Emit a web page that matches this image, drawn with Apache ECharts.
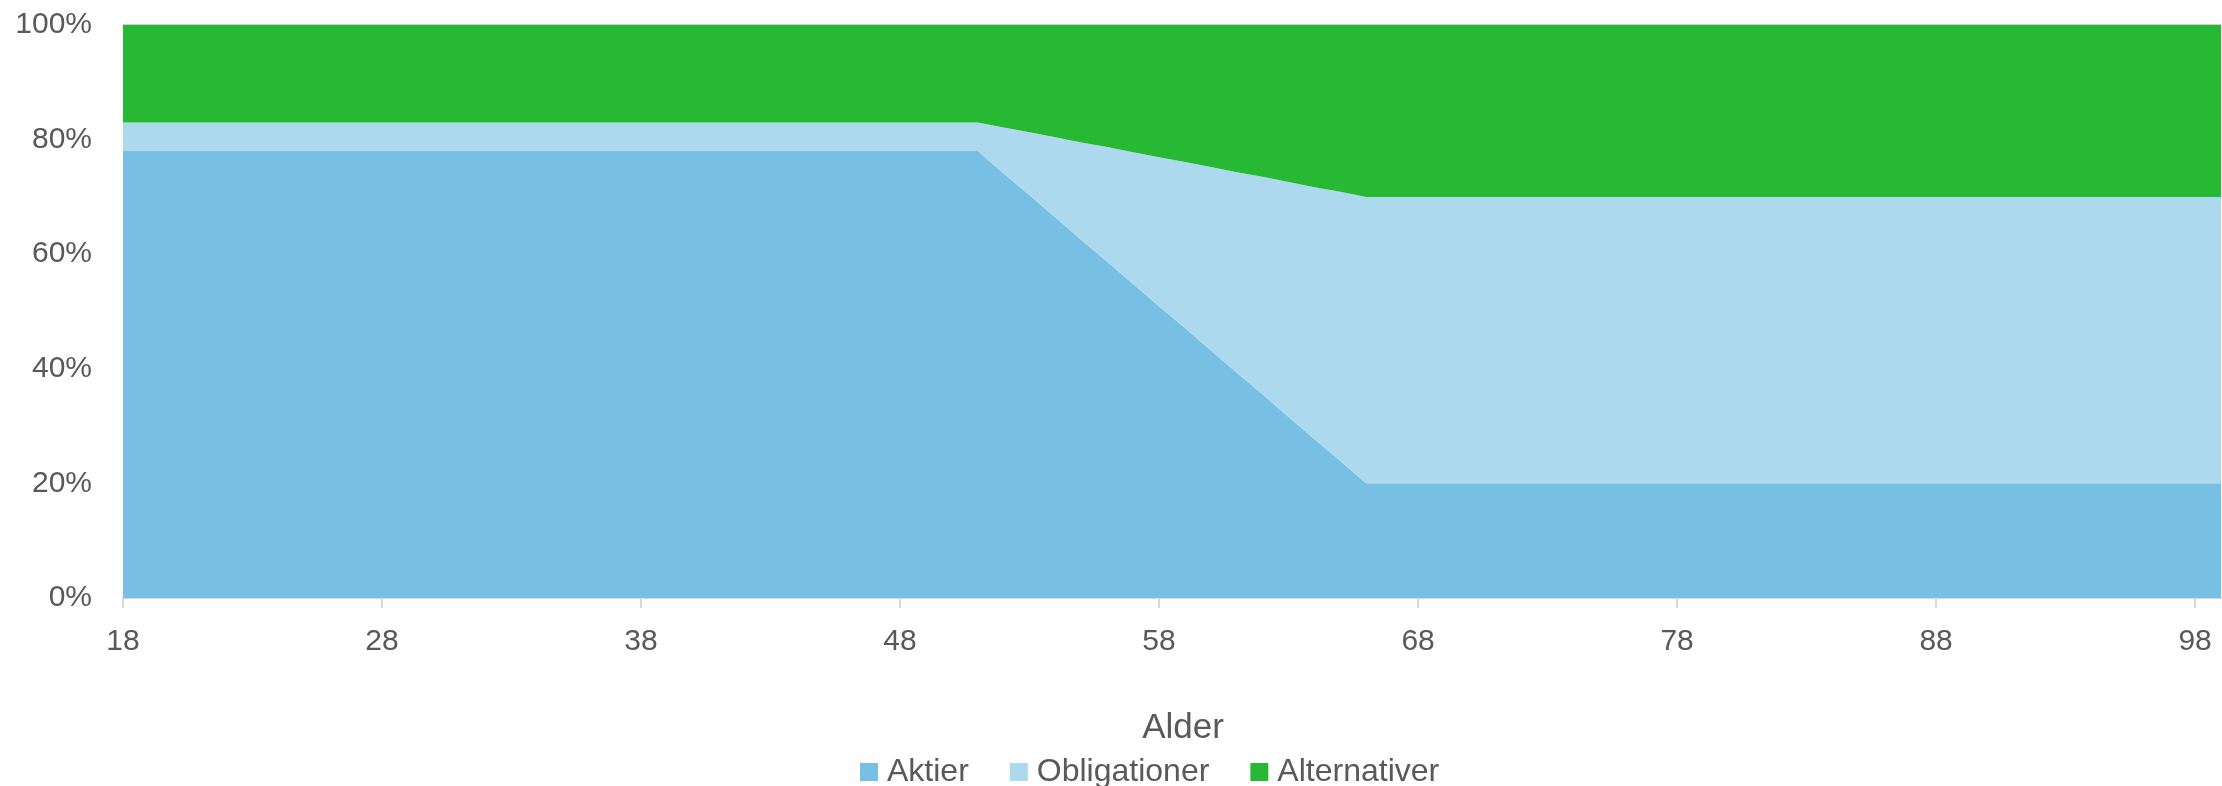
<!DOCTYPE html>
<html>
<head>
<meta charset="utf-8">
<script src="https://cdn.jsdelivr.net/npm/echarts@6/dist/echarts.min.js"></script>
<style>
html,body{margin:0;padding:0;background:#fff;}
#chart{width:2222px;height:786px;}
</style>
</head>
<body>
<div id="chart"></div>
<script>
const ages = [
  18,19,20,21,22,23,24,25,26,27,28,29,30,31,32,33,34,35,36,37,38,39,40,41,42,43,44,45,46,47,48,49,50,51,
  52,53,54,55,56,57,58,59,60,61,62,63,64,65,
  66,67,68,69,70,71,72,73,74,75,76,77,78,79,80,81,82,83,84,85,86,87,88,89,90,91,92,93,94,95,96,97,98,99
];
const aktier = [
  78,78,78,78,78,78,78,78,78,78,78,78,78,78,78,78,78,78,78,78,78,78,78,78,78,78,78,78,78,78,78,78,78,78,
  74.1,70.3,66.4,62.5,58.7,54.8,50.9,47.1,43.2,39.3,35.5,31.6,27.7,23.9,
  20,20,20,20,20,20,20,20,20,20,20,20,20,20,20,20,20,20,20,20,20,20,20,20,20,20,20,20,20,20,20,20,20,20
];
const obligationer = [
  5,5,5,5,5,5,5,5,5,5,5,5,5,5,5,5,5,5,5,5,5,5,5,5,5,5,5,5,5,5,5,5,5,5,
  8,11,14,17,20,23,26,29,32,35,38,41,44,47,
  50,50,50,50,50,50,50,50,50,50,50,50,50,50,50,50,50,50,50,50,50,50,50,50,50,50,50,50,50,50,50,50,50,50
];
const alternativer = [
  17,17,17,17,17,17,17,17,17,17,17,17,17,17,17,17,17,17,17,17,17,17,17,17,17,17,17,17,17,17,17,17,17,17,
  17.9,18.7,19.6,20.5,21.3,22.2,23.1,23.9,24.8,25.7,26.5,27.4,28.3,29.1,
  30,30,30,30,30,30,30,30,30,30,30,30,30,30,30,30,30,30,30,30,30,30,30,30,30,30,30,30,30,30,30,30,30,30
];
const seriesNames = ['Aktier', 'Obligationer', 'Alternativer'];
const colors = ['#77bfe3', '#acd9ee', '#28b934'];
const yTicks = [0, 20, 40, 60, 80, 100];

const FONT = '"Liberation Sans", Arial, sans-serif';
const TXT = '#595959';
const chart = echarts.init(document.getElementById('chart'), null, {renderer: 'canvas'});
const mk = (name, data, i) => ({
  name: name,
  type: 'line',
  stack: 'total',
  data: data,
  symbol: 'none',
  showSymbol: false,
  lineStyle: {width: 0},
  itemStyle: {color: colors[i]},
  areaStyle: {color: colors[i], opacity: 1},
  emphasis: {disabled: true},
  animation: false
});
chart.setOption({
  animation: false,
  textStyle: {fontFamily: FONT},
  grid: {left: 123, right: 1, top: 25, bottom: 188, containLabel: false},
  legend: {
    data: seriesNames,
    left: 860,
    top: 756,
    padding: 0,
    icon: 'rect',
    itemWidth: 18,
    itemHeight: 18,
    itemGap: 41,
    textStyle: {color: TXT, fontSize: 32, fontFamily: FONT, padding: [0, 0, 0, 4]}
  },
  xAxis: {
    type: 'category',
    data: ages,
    boundaryGap: false,
    name: 'Alder',
    nameLocation: 'middle',
    nameGap: 113,
    nameTextStyle: {color: TXT, fontSize: 35, fontFamily: FONT, padding: [0, 0, 0, 22]},
    axisLine: {show: true, lineStyle: {color: '#d9d9d9', width: 2}},
    axisTick: {show: true, interval: 9, length: 10, lineStyle: {color: '#d9d9d9', width: 2}},
    axisLabel: {interval: 9, color: TXT, fontSize: 30, fontFamily: FONT, margin: 29},
    splitLine: {show: false}
  },
  yAxis: {
    type: 'value',
    min: yTicks[0],
    max: yTicks[yTicks.length - 1],
    interval: 20,
    axisLine: {show: false},
    axisTick: {show: false},
    axisLabel: {formatter: '{value}%', color: TXT, fontSize: 30, fontFamily: FONT, margin: 31},
    splitLine: {show: true, lineStyle: {color: '#d0d0d0', width: 2}}
  },
  series: [
    mk(seriesNames[0], aktier, 0),
    mk(seriesNames[1], obligationer, 1),
    mk(seriesNames[2], alternativer, 2)
  ]
});
</script>
</body>
</html>
